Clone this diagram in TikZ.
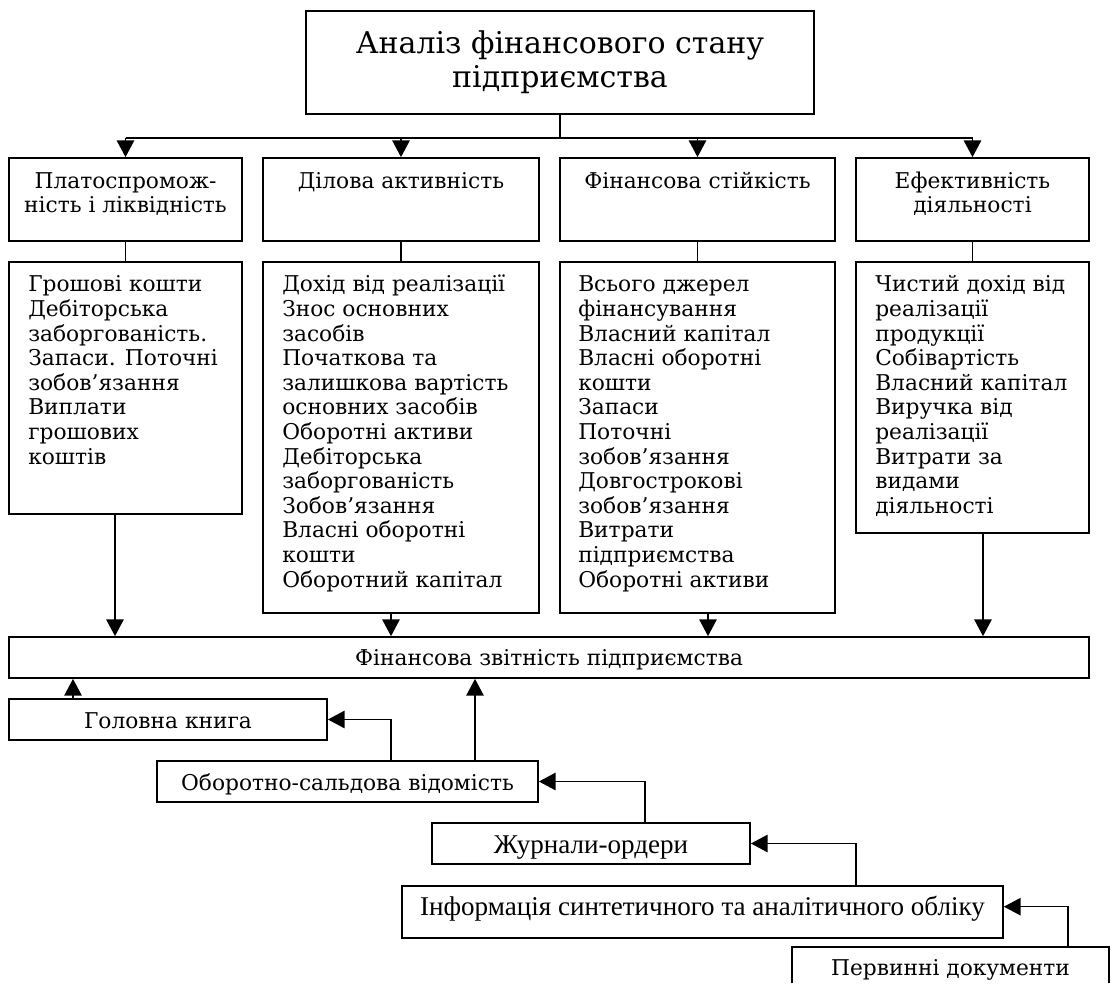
\documentclass[tikz,border=0pt]{standalone}
\usepackage{fontspec}
\setmainfont{DejaVu Serif}
\newfontfamily\tnr{Liberation Serif}
\usetikzlibrary{arrows.meta,fit}
\tikzset{
  box/.style={draw, line width=1.3pt, inner sep=0pt, rectangle},
  conn/.style={line width=1.05pt},
  arr/.style={conn, -{Triangle[length=12.5pt,width=13pt]}},
  ttl/.style={inner sep=0pt, align=center, anchor=north, font=\fontsize{22.5}{25.5}\selectfont},
  hdr/.style={inner sep=0pt, align=center, anchor=north, font=\fontsize{16.3}{18.2}\selectfont},
  lst/.style={inner sep=0pt, align=left, anchor=north west, font=\fontsize{16.3}{18.45}\selectfont},
  one/.style={inner sep=0pt, anchor=base, font=\fontsize{16.3}{18.45}\selectfont},
  tms/.style={inner sep=0pt, anchor=base, font=\tnr\fontsize{20.3}{22}\selectfont},
}
\begin{document}
\begin{tikzpicture}[x=0.75pt,y=-0.75pt]
\useasboundingbox (0,0) rectangle (1115,983);
% title
\node[box, fit={(306,11) (814,114)}] (title) {};
\node[ttl] (titlet) at (560,29.2) {\strut Аналіз фінансового стану\\підприємства};
% headers
\node[box, fit={(9,158) (242,241)}] (h1) {};
\node[box, fit={(263,158) (539,241)}] (h2) {};
\node[box, fit={(560,158) (835,241)}] (h3) {};
\node[box, fit={(856,158) (1089,241)}] (h4) {};
\node[hdr] (h1t) at (125.5,171) {\strut Платоспромож-\\ність і ліквідність};
\node[hdr] (h2t) at (401,171) {\strut Ділова активність};
\node[hdr] (h3t) at (697.5,171) {\strut Фінансова стійкість};
\node[hdr] (h4t) at (972.5,171) {\strut Ефективність\\діяльності};
% lists
\node[box, fit={(9,262) (242,514)}] (l1) {};
\node[box, fit={(263,262) (539,613)}] (l2) {};
\node[box, fit={(560,262) (835,613)}] (l3) {};
\node[box, fit={(856,262) (1089,533)}] (l4) {};
\node[lst] (l1t) at (28,274.5) {\strut Грошові кошти\\Дебіторська\\заборгованість.\\Запаси. Поточні\\зобов’язання\\Виплати\\грошових\\коштів};
\node[lst] (l2t) at (282,274.5) {\strut Дохід від реалізації\\Знос основних\\засобів\\Початкова та\\залишкова вартість\\основних засобів\\Оборотні активи\\Дебіторська\\заборгованість\\Зобов’язання\\Власні оборотні\\кошти\\Оборотний капітал};
\node[lst] (l3t) at (578,274.5) {\strut Всього джерел\\фінансування\\Власний капітал\\Власні оборотні\\кошти\\Запаси\\Поточні\\зобов’язання\\Довгострокові\\зобов’язання\\Витрати\\підприємства\\Оборотні активи};
\node[lst] (l4t) at (875,274.5) {\strut Чистий дохід від\\реалізації\\продукції\\Собівартість\\Власний капітал\\Виручка від\\реалізації\\Витрати за\\видами\\діяльності};
% bottom chain
\node[box, fit={(9,637) (1089,678)}] (fin) {};
\node[one] (fint) at (549,665) {Фінансова звітність підприємства};
\node[box, fit={(9,699) (327,740)}] (hol) {};
\node[one] (holt) at (168,728) {Головна книга};
\node[box, fit={(157,761) (538,802)}] (ob) {};
\node[one] (obt) at (347.5,790) {Оборотно-сальдова відомість};
\node[box, fit={(432,823) (750,864)}] (zh) {};
\node[tms] (zht) at (591,853) {Журнали-ордери};
\node[box, fit={(402,886) (1003,938)}] (inf) {};
\node[tms] (inft) at (702.5,915) {Інформація синтетичного та аналітичного обліку};
\node[inner sep=0pt, fit={(792,947) (1109,983)}] (perv) {};
\draw[line width=1.3pt] (perv.south west) -- (perv.north west) -- (perv.north east) -- (perv.south east);
\node[one] (pervt) at (950.5,975) {Первинні документи};
% connectors top
\coordinate (bus) at (0,138);
\draw[conn] (title.south) -- (title.south |- bus);
\draw[conn] (bus -| h1.north) -- (bus -| h4.north);
\foreach \h in {h1,h2,h3,h4} \draw[arr] (bus -| \h.north) -- (\h.north);
\draw[conn] (h1.south) -- (l1.north);
\draw[conn] (h2.south) -- (l2.north);
\draw[conn] (h3.south) -- (l3.north);
\draw[conn] (h4.south) -- (l4.north);
% lists to report
\coordinate (a1) at (115,0);
\coordinate (a2) at (391,0);
\coordinate (a3) at (708,0);
\coordinate (a4) at (983,0);
\draw[arr] (l1.south -| a1) -- (fin.north -| a1);
\draw[arr] (l2.south -| a2) -- (fin.north -| a2);
\draw[arr] (l3.south -| a3) -- (fin.north -| a3);
\draw[arr] (l4.south -| a4) -- (fin.north -| a4);
% bottom chain connectors
\coordinate (g1) at (73,0);
\coordinate (o1) at (391,0);
\coordinate (o2) at (475,0);
\coordinate (j1) at (645,0);
\coordinate (i1) at (856,0);
\coordinate (p1) at (1068,0);
\draw[arr] (hol.north -| g1) -- (fin.south -| g1);
\draw[arr] (ob.north -| o1) |- (hol.east);
\draw[arr] (ob.north -| o2) -- (fin.south -| o2);
\draw[arr] (zh.north -| j1) |- (ob.east);
\draw[arr] (inf.north -| i1) |- (zh.east);
\draw[arr] (perv.north -| p1) |- ([yshift=4pt]inf.east);
\end{tikzpicture}
\end{document}
